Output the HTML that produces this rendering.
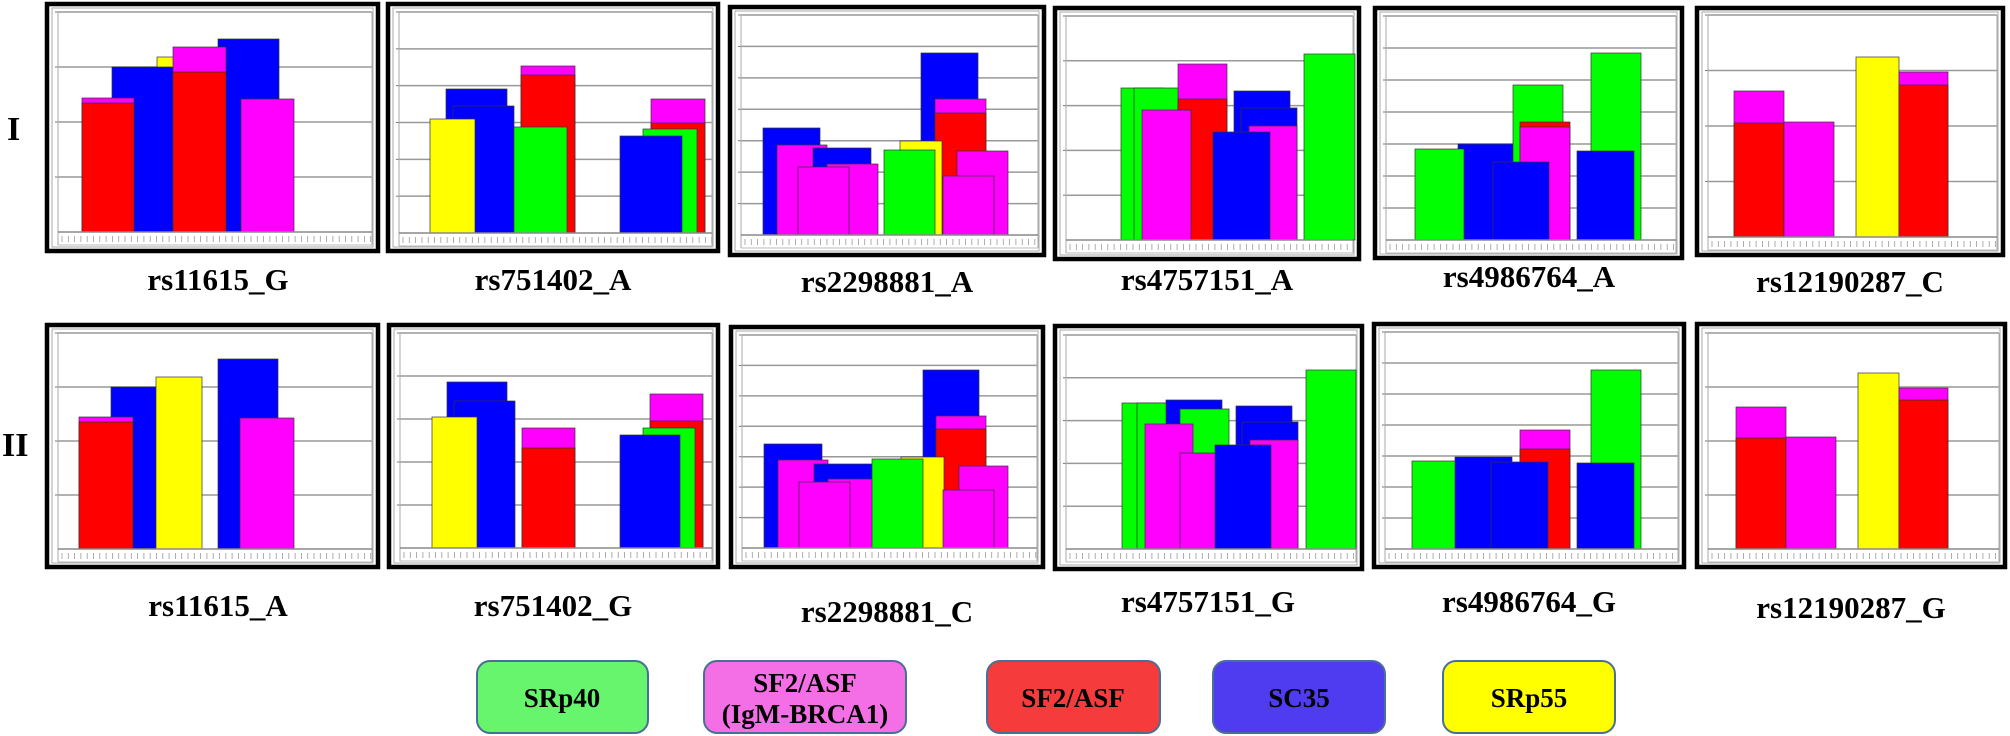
<!DOCTYPE html>
<html><head><meta charset="utf-8"><style>
html,body{margin:0;padding:0;background:#fff;}
svg{display:block;}
.lbl{font-family:"Liberation Serif",serif;font-weight:bold;font-size:31px;fill:#000;}
.rom{font-family:"Liberation Serif",serif;font-weight:bold;font-size:34px;fill:#000;}
.leg{font-family:"Liberation Serif",serif;font-weight:bold;font-size:27px;fill:#000;}
</style></head><body>
<svg id="s" width="2010" height="736" viewBox="0 0 2010 736" xmlns="http://www.w3.org/2000/svg">
<g id="panels"></g>
<text class="rom" x="7" y="140">I</text>
<text class="rom" x="2" y="456">II</text>
<g text-anchor="middle">
<text class="lbl" x="218" y="290">rs11615_G</text>
<text class="lbl" x="553" y="290">rs751402_A</text>
<text class="lbl" x="887" y="292">rs2298881_A</text>
<text class="lbl" x="1207" y="290">rs4757151_A</text>
<text class="lbl" x="1529" y="287">rs4986764_A</text>
<text class="lbl" x="1850" y="292">rs12190287_C</text>
<text class="lbl" x="218" y="616">rs11615_A</text>
<text class="lbl" x="553" y="616">rs751402_G</text>
<text class="lbl" x="887" y="622">rs2298881_C</text>
<text class="lbl" x="1208" y="612">rs4757151_G</text>
<text class="lbl" x="1529" y="612">rs4986764_G</text>
<text class="lbl" x="1851" y="618">rs12190287_G</text>
</g>
<g stroke="#4a6f95" stroke-width="2">
<rect x="477" y="661" width="171" height="72" rx="13" fill="#66f56d"/>
<rect x="704" y="661" width="202" height="72" rx="13" fill="#f46ee5"/>
<rect x="987" y="661" width="173" height="72" rx="13" fill="#f53b3b"/>
<rect x="1213" y="661" width="172" height="72" rx="13" fill="#4f3cf0"/>
<rect x="1443" y="661" width="172" height="72" rx="13" fill="#ffff00"/>
</g>
<g text-anchor="middle">
<text class="leg" x="562" y="707">SRp40</text>
<text class="leg" x="805" y="692">SF2/ASF</text>
<text class="leg" x="805" y="723">(IgM-BRCA1)</text>
<text class="leg" x="1073" y="707">SF2/ASF</text>
<text class="leg" x="1299" y="707">SC35</text>
<text class="leg" x="1529" y="707">SRp55</text>
</g>
</svg>
<script>
var C={r:"#ff0000",b:"#0000ff",g:"#00ff00",y:"#ffff00",m:"#ff00ff"};
var P=[
{x1:45,x2:380,y1:2,y2:253,top:12,base:232,n:4,bars:[["y",157,203,57],["b",218,279,39],["b",112,173,67],["m",82,134,98],["r",82,134,103],["m",173,226,47],["r",173,226,72],["m",241,294,99]]},
{x1:386,x2:720,y1:2,y2:253,top:12,base:233,n:6,bars:[["m",651,705,99],["r",651,705,123],["g",643,697,129],["b",620,682,136],["m",521,575,66],["r",521,575,75],["b",446,507,89],["b",453,514,106],["y",430,475,119],["g",514,567,127]]},
{x1:728,x2:1046,y1:5,y2:257,top:15,base:235,n:7,bars:[["b",763,820,128],["m",777,827,145],["b",813,871,148],["m",827,878,164],["m",798,849,167],["b",921,978,53],["m",935,986,99],["r",935,986,113],["y",900,942,141],["g",884,935,150],["m",957,1008,151],["m",943,994,176]]},
{x1:1053,x2:1361,y1:6,y2:261,top:16,base:240,n:5,bars:[["g",1121,1164,88],["g",1134,1184,88],["m",1178,1227,64],["r",1178,1227,99],["m",1142,1191,110],["b",1234,1290,91],["b",1241,1297,108],["m",1249,1297,126],["b",1213,1270,132],["g",1304,1355,54]]},
{x1:1373,x2:1684,y1:6,y2:260,top:16,base:240,n:7,bars:[["b",1458,1513,144],["g",1415,1464,149],["g",1513,1563,85],["r",1520,1570,122],["m",1520,1570,127],["b",1493,1549,162],["g",1591,1641,53],["b",1577,1634,151]]},
{x1:1695,x2:2005,y1:6,y2:257,top:15,base:237,n:4,bars:[["m",1734,1784,91],["r",1734,1784,123],["m",1784,1834,122],["y",1856,1899,57],["m",1899,1948,72],["r",1899,1948,85]]},
{x1:45,x2:380,y1:323,y2:569,top:333,base:549,n:4,bars:[["b",111,172,387],["m",79,133,417],["r",79,133,422],["y",156,202,377],["b",218,278,359],["m",240,294,418]]},
{x1:387,x2:720,y1:323,y2:569,top:333,base:548,n:5,bars:[["m",650,703,394],["r",650,703,421],["g",643,695,428],["b",620,680,435],["b",447,507,382],["b",454,515,401],["y",432,477,417],["m",522,575,428],["r",522,575,448]]},
{x1:729,x2:1045,y1:325,y2:569,top:335,base:548,n:7,bars:[["b",764,822,444],["m",778,828,460],["b",814,873,464],["m",828,880,479],["m",799,850,482],["b",923,979,370],["m",936,986,416],["r",936,986,429],["y",901,944,457],["g",872,923,459],["m",959,1008,466],["m",943,994,490]]},
{x1:1053,x2:1364,y1:324,y2:571,top:335,base:549,n:5,bars:[["g",1122,1187,403],["g",1137,1187,403],["b",1166,1222,400],["g",1180,1229,409],["m",1145,1193,424],["m",1180,1229,453],["b",1236,1292,406],["b",1242,1298,422],["m",1250,1298,440],["b",1215,1271,445],["g",1306,1356,370]]},
{x1:1372,x2:1686,y1:322,y2:569,top:332,base:549,n:7,bars:[["g",1412,1462,461],["b",1455,1512,457],["m",1520,1570,430],["r",1520,1570,449],["b",1491,1548,462],["g",1591,1641,370],["b",1577,1634,463]]},
{x1:1695,x2:2007,y1:322,y2:569,top:333,base:549,n:4,bars:[["m",1736,1786,407],["r",1736,1786,438],["m",1786,1836,437],["y",1858,1899,373],["m",1899,1948,388],["r",1899,1948,400]]}
];
var h="";
P.forEach(function(p){
 var L=p.x1+13,R=p.x2-8;
 h+='<rect x="'+(p.x1+2)+'" y="'+(p.y1+2)+'" width="'+(p.x2-p.x1-4)+'" height="'+(p.y2-p.y1-4)+'" fill="#fff" stroke="#000" stroke-width="4.5"/>';
 h+='<rect x="'+(p.x1+7)+'" y="'+(p.y1+6)+'" width="'+(p.x2-p.x1-14)+'" height="'+(p.y2-p.y1-12)+'" fill="none" stroke="#aaa" stroke-width="1"/>';
 var u=(p.base-p.top)/p.n;
 for(var i=1;i<=p.n;i++){var yy=p.base-i*u;h+='<line x1="'+L+'" x2="'+R+'" y1="'+yy+'" y2="'+yy+'" stroke="#999" stroke-width="1.5"/>';
  h+='<line x1="'+(L-3)+'" x2="'+L+'" y1="'+yy+'" y2="'+yy+'" stroke="#777" stroke-width="1"/>';}
 h+='<line x1="'+L+'" x2="'+L+'" y1="'+p.top+'" y2="'+(p.base+13)+'" stroke="#aaa" stroke-width="1"/>';
 h+='<line x1="'+R+'" x2="'+R+'" y1="'+p.top+'" y2="'+(p.base+13)+'" stroke="#aaa" stroke-width="1"/>';
 p.bars.forEach(function(b){h+='<rect x="'+b[1]+'" y="'+b[3]+'" width="'+(b[2]-b[1])+'" height="'+(p.base-b[3])+'" fill="'+C[b[0]]+'" stroke="#333" stroke-width="0.7"/>';});
 h+='<line x1="'+L+'" x2="'+R+'" y1="'+p.base+'" y2="'+p.base+'" stroke="#888" stroke-width="1.5"/>';
 h+='<line x1="'+L+'" x2="'+R+'" y1="'+(p.base+13)+'" y2="'+(p.base+13)+'" stroke="#bbb" stroke-width="1"/>';
 for(var x=L+4;x<R;x+=6.3){h+='<line x1="'+x+'" x2="'+x+'" y1="'+(p.base+4)+'" y2="'+(p.base+10)+'" stroke="#999" stroke-width="0.8"/>';}
});
document.getElementById("panels").innerHTML=h;
</script>
</body></html>
